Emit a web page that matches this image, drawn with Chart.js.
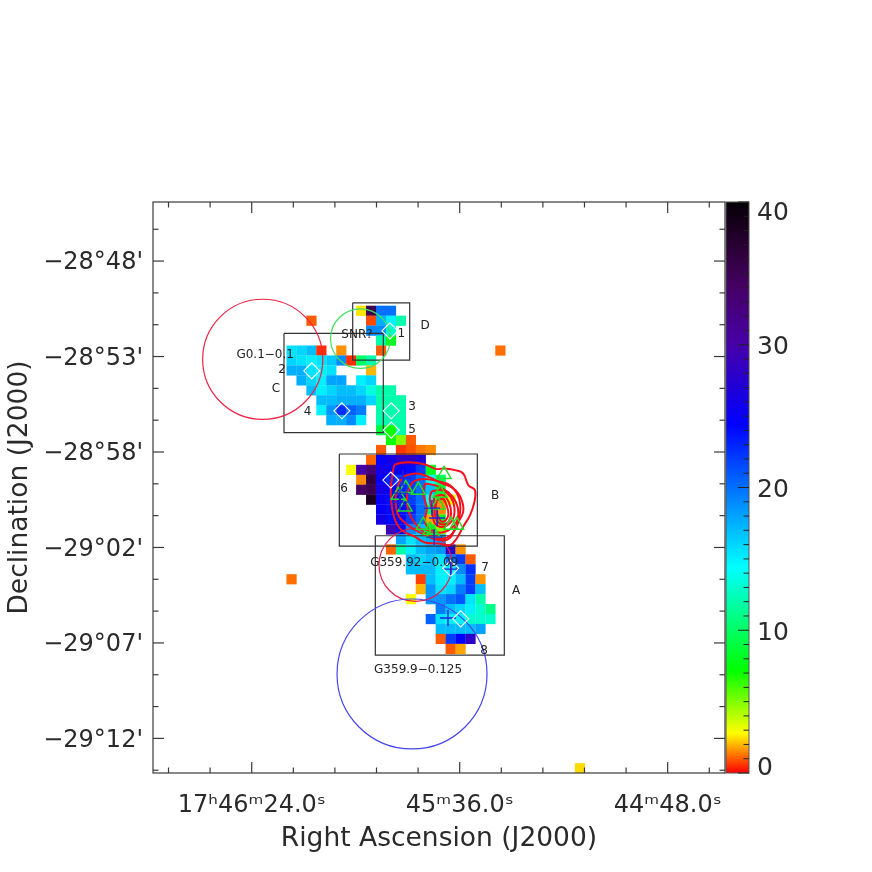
<!DOCTYPE html>
<html lang="en">
<head>
  <meta charset="UTF-8">
  <title>Galactic centre map</title>
  <script src="https://cdn.jsdelivr.net/npm/chart.js"></script>
  <style>
    * { margin: 0; padding: 0; box-sizing: border-box; }
    body { background: #fff; width: 872px; height: 872px; position: relative; overflow: hidden; }
    #map-box { position: absolute; left: 0; top: 0; width: 872px; height: 872px; }
    #bar-box { position: absolute; left: 700px; top: 0; width: 172px; height: 872px; }
  </style>
</head>
<body>
  <div id="map-box"><canvas id="mapChart" width="872" height="872"></canvas></div>
  <div id="bar-box"><canvas id="barChart" width="172" height="872"></canvas></div>

  <script>
    // RA is seconds after 17h, Dec is arcmin after -28 deg
    const raMin = 2674.77, raMax = 2806.78;
    const decMin = -73.74, decMax = -45.03;

    const raTicks = [2784, 2736, 2688];
    const raTickLabels = ["17ʰ46ᵐ24.0ˢ", "45ᵐ36.0ˢ", "44ᵐ48.0ˢ"];
    const raMinorTicks = [2803.2, 2793.6, 2774.4, 2764.8, 2755.2, 2745.6, 2726.4, 2716.8, 2707.2, 2697.6, 2678.4];
    const decTicks = [-48, -52.8, -57.6, -62.4, -67.2, -72];
    const decTickLabels = ["−28°48'", "−28°53'", "−28°58'", "−29°02'", "−29°07'", "−29°12'"];
    const decMinorTicks = [-46.4, -49.6, -51.2, -54.4, -56, -59.2, -60.8, -64, -65.6, -68.8, -70.4, -73.6];

    // flux map: 30 arcsec cells
    const cellRa0 = 2774.8, cellRaStep = 2.295;
    const cellDec0 = -50.5, cellDecStep = 0.5;
    const rowIndex = [0, 1, 2, 3, 4, 4, 5, 6, 7, 8, 9, 10, 11, 12, 13, 14, 15, 16, 17, 18, 19, 20, 21, 22, 23, 24, 25, 26, 27, 27, 28, 29, 30, 31, 32, 33, 34, 46];
    const rowFirstCol = [7, 2, 8, 9, 0, 21, 0, 0, 1, 2, 3, 3, 4, 9, 10, 9, 8, 6, 7, 7, 8, 9, 9, 10, 11, 10, 12, 12, 0, 13, 13, 12, 15, 14, 15, 15, 16, 29];
    const rowFlux = [
      [2.5, 35, 20, 20],
      [1.0, null, null, null, null, null, 0.8, 17.5, 15, 12],
      [19, 19, 13],
      [12, 8],
      [15.5, 16, 17, 0.5, null, 1.6, null, null, null, 1.0],
      [1.2],
      [16, 15.5, 15, 15.5, 16.5, 19, 0.5, 10, 12],
      [17.5, 17.5, 15.5, 15, 15.5, null, null, null, 2],
      [17.5, 16, 15, 18, 18, null, 15, 16],
      [17, 15, 16, 17, 17, 16, 13.5, 12, 12],
      [17, 17, 17.5, 17.5, 17.5, 16, 12, 12, 12],
      [15, 18.5, 22.5, 20.5, 19.5, null, 12, 12, 12],
      [17.5, 17.5, 19, 15, null, 12, 12, 12],
      [9, 7, 12],
      [7, 5, 1],
      [1.0, null, 0.6, 0.9, 1.3, 1.5],
      [1.1, 25, 26, 28, 28, 27],
      [2.9, 30, 33, 26, 25, 25, 24, 22, 8],
      [1.5, 36, 25, 23, 22, 22, 20, 14, 10],
      [34, 35, 26, 25, 23, 22, 20, 17, 9],
      [38, 25, 24, 24, 22, 20, 14, 1.5, 3],
      [25, 24, 24, 23, 20, 10, 1.5],
      [26, 24, 24, 22, 20, 1.8, 8],
      [29, 24, 19, 17, 8, 5],
      [18, 15.5, 17, 17.5, 18.5],
      [1.1, 12, 15, 17, 18, 18.5, 28, 1.6],
      [17, 16, 17, 15.5, 20, 22, 1.0],
      [17, 17, 17, 15, 15, 19, 22.5],
      [1.2],
      [0.7, 17, 15, 15, 17, 22, 1.6],
      [2, 18.5, 15.5, 16, 19.5, 22, 17],
      [2.9, null, 18.5, 18.5, 20, 21, 15.5, 12],
      [19.5, 17, 16, 15, 13, 11],
      [20.5, 15.5, 15, 15, 13, 13, 13],
      [17, 17, 17, 17, 18],
      [1.0, 22, 24.4, 28],
      [1.0, 1.8],
      [2.4]
    ];

    // colour table
    const colourValues = [0, 1.4, 2.8, 7.2, 14.4, 24.4, 30, 34, 37, 40];
    const colourRgb = [[255, 0, 0], [255, 128, 0], [255, 255, 0], [0, 255, 0], [0, 255, 255], [0, 0, 255], [70, 0, 170], [70, 0, 100], [40, 0, 50], [5, 0, 5]];
    const barTicks = [0, 10, 20, 30, 40];
    const barTickLabels = ["0", "10", "20", "30", "40"];
    const barMinorTicks = [1, 2, 3, 4, 5, 6, 7, 8, 9, 11, 12, 13, 14, 15, 16, 17, 18, 19, 21, 22, 23, 24, 25, 26, 27, 28, 29, 31, 32, 33, 34, 35, 36, 37, 38, 39];

    // source regions A, B, C, D
    const boxEastRa = [2755.47, 2763.78, 2776.55, 2760.69];
    const boxWestRa = [2725.70, 2731.93, 2753.63, 2747.54];
    const boxNorthDec = [-61.81, -57.70, -51.64, -50.10];
    const boxSouthDec = [-67.81, -62.33, -56.63, -52.98];

    // SNR circles, radius in arcmin
    const circleRa = [2781.46, 2758.91, 2746.2, 2747.0];
    const circleDec = [-52.94, -51.90, -63.28, -68.76];
    const circleRadius = [3.02, 1.5, 1.835, 3.77];
    const circleColour = ["#ee2244", "#40e060", "#e8204a", "#4444ee"];

    const diamondRa = [2752.1, 2770.15, 2751.8, 2763.2, 2751.8, 2751.9, 2738.07, 2735.76];
    const diamondDec = [-51.51, -53.52, -55.53, -55.53, -56.50, -59.01, -63.45, -65.99];
    const plusRa = [2738.07, 2738.7, 2741.9, 2742.4, 2741.2, 2749.77, 2749.77, 2749.1];
    const plusDec = [-63.49, -65.95, -61.88, -60.42, -60.92, -59.67, -60.12, -58.91];
    const triangleRa = [2739.6, 2748.45, 2745.55, 2750.2, 2748.6, 2740.5, 2741.0, 2744.4, 2742.85, 2742.1, 2738.0, 2736.7];
    const triangleDec = [-58.73, -59.43, -59.52, -59.77, -60.36, -59.68, -60.27, -61.28, -61.53, -61.69, -61.28, -61.28];

    // radio contours
    const contourRa = [
      [2751.3, 2750.9, 2747.9, 2744.0, 2741.3, 2739.8, 2737.1, 2735.2, 2734.0, 2732.5, 2732.6, 2733.6, 2735.2, 2736.7, 2738.2, 2740.9, 2744.0, 2746.3, 2749.4, 2750.9, 2751.7, 2751.9],
      [2750.2, 2749.0, 2745.9, 2743.2, 2740.1, 2737.5, 2735.7, 2735.2, 2736.8, 2738.4, 2740.9, 2744.8, 2747.9, 2750.2, 2750.8],
      [2748.2, 2746.7, 2744.0, 2740.5, 2738.2, 2736.3, 2735.9, 2737.1, 2739.8, 2743.2, 2746.3, 2747.9],
      [2744.0, 2741.3, 2738.6, 2736.9, 2736.3, 2737.2, 2739.8, 2742.5, 2744.0, 2743.6, 2744.4],
      [2742.5, 2740.1, 2738.0, 2737.2, 2737.7, 2739.8, 2741.7, 2742.3, 2742.9],
      [2741.9, 2739.8, 2738.4, 2738.0, 2738.6, 2740.1, 2741.3, 2741.9],
      [2741.3, 2739.8, 2738.9, 2738.6, 2739.2, 2740.3, 2741.1, 2741.5]
    ];
    const contourDec = [
      [-58.43, -58.23, -58.12, -58.23, -58.46, -58.43, -58.51, -58.68, -59.27, -59.52, -60.11, -60.77, -61.36, -61.95, -62.28, -62.20, -62.15, -61.87, -61.53, -61.03, -60.27, -59.43],
      [-59.27, -58.85, -58.68, -58.85, -59.18, -59.43, -59.93, -60.61, -61.28, -61.95, -62.03, -61.69, -61.28, -60.77, -59.93],
      [-59.68, -59.10, -58.96, -59.10, -59.27, -59.85, -60.61, -61.53, -61.95, -61.78, -61.19, -60.52],
      [-59.18, -59.30, -59.63, -60.11, -60.69, -61.28, -61.64, -61.53, -61.11, -60.44, -59.68],
      [-59.57, -59.52, -59.90, -60.44, -61.03, -61.36, -61.19, -60.61, -59.93],
      [-59.85, -59.77, -60.19, -60.69, -61.11, -61.24, -61.03, -60.44],
      [-60.02, -59.97, -60.36, -60.74, -61.03, -61.08, -60.77, -60.36]
    ];

    const noteTexts = ["1", "2", "3", "4", "5", "6", "7", "8", "A", "B", "C", "D", "SNR?", "G0.1−0.1", "G359.92−0.09", "G359.9−0.125"];
    const noteRa = [2749.5, 2777.0, 2747.0, 2771.1, 2747.0, 2762.7, 2730.15, 2730.4, 2723.0, 2727.84, 2778.4, 2744.0, 2759.7, 2780.9, 2746.5, 2745.6];
    const noteDec = [-51.67, -53.48, -55.34, -55.60, -56.50, -59.47, -63.44, -67.61, -64.60, -59.82, -54.44, -51.27, -51.72, -52.73, -63.19, -68.57];

    const axisColour = "#3a3a3a";
    const textColour = "#2a2a2a";
    const bigFont = "'DejaVu Sans', sans-serif";

    function fluxColour(v) {
      for (let i = 1; i < colourValues.length; i++) {
        if (v <= colourValues[i]) {
          const f = (v - colourValues[i - 1]) / (colourValues[i] - colourValues[i - 1]);
          const a = colourRgb[i - 1], b = colourRgb[i];
          return `rgb(${a.map((c, k) => Math.round(c + (b[k] - c) * f)).join(",")})`;
        }
      }
      return "rgb(5,0,5)";
    }

    const cellPoints = [];
    rowFlux.forEach((vals, i) => {
      vals.forEach((v, j) => {
        if (v === null) return;
        cellPoints.push({
          x: cellRa0 - (rowFirstCol[i] + j) * cellRaStep,
          y: cellDec0 - rowIndex[i] * cellDecStep,
          v: v
        });
      });
    });

    function zip(xs, ys) {
      return xs.map((x, i) => ({ x: x, y: ys[i] }));
    }

    function strokeDataset(points, colour, width) {
      return { data: points, showLine: true, pointRadius: 0, borderColor: colour, borderWidth: width, fill: false };
    }

    const datasets = [];
    datasets.push({
      data: cellPoints,
      pointStyle: "rect",
      pointRadius: 7.2,
      pointBorderWidth: 0,
      pointBackgroundColor: cellPoints.map(p => fluxColour(p.v)),
      order: 10
    });
    boxEastRa.forEach((east, i) => {
      const d = strokeDataset([
        { x: east, y: boxNorthDec[i] }, { x: boxWestRa[i], y: boxNorthDec[i] },
        { x: boxWestRa[i], y: boxSouthDec[i] }, { x: east, y: boxSouthDec[i] },
        { x: east, y: boxNorthDec[i] }
      ], "#333", 1.2);
      d.order = 6;
      datasets.push(d);
    });
    datasets.push({
      data: zip(circleRa, circleDec),
      pointStyle: "circle",
      pointRadius: ctx => circleRadius[ctx.dataIndex] * (ctx.chart.scales.y.getPixelForValue(0) - ctx.chart.scales.y.getPixelForValue(1)),
      pointBorderColor: circleColour,
      pointBackgroundColor: "rgba(0,0,0,0)",
      pointBorderWidth: 1.2,
      order: 5
    });
    contourRa.forEach((ras, i) => {
      const pts = zip(ras, contourDec[i]);
      pts.push(pts[0]);
      const d = strokeDataset(pts, "#f5101c", 2);
      d.tension = 0.4;
      d.order = 4;
      datasets.push(d);
    });
    datasets.push({
      data: zip(triangleRa, triangleDec),
      pointStyle: "triangle",
      pointRadius: 8,
      pointBorderColor: "#22e022",
      pointBackgroundColor: "rgba(0,0,0,0)",
      pointBorderWidth: 1.5,
      order: 3
    });
    datasets.push({
      data: zip(plusRa, plusDec),
      pointStyle: "cross",
      pointRadius: 8,
      pointBorderColor: "#2222dd",
      pointBorderWidth: 1.4,
      order: 2
    });
    datasets.push({
      data: zip(diamondRa, diamondDec),
      pointStyle: "rectRot",
      pointRadius: 8,
      pointBorderColor: "#fff",
      pointBackgroundColor: "rgba(0,0,0,0)",
      pointBorderWidth: 1.1,
      order: 1
    });

    function tickLine(ctx, x1, y1, x2, y2) {
      ctx.beginPath();
      ctx.moveTo(x1, y1);
      ctx.lineTo(x2, y2);
      ctx.stroke();
    }

    // IDL style inward ticks on all four sides plus the frame and the notes
    const mapFrame = {
      id: "mapFrame",
      afterDatasetsDraw(chart) {
        const { ctx, chartArea: a, scales } = chart;
        ctx.save();
        ctx.strokeStyle = axisColour;
        ctx.lineWidth = 1.2;
        ctx.strokeRect(a.left, a.top, a.right - a.left, a.bottom - a.top);
        const drawX = (vals, len) => vals.forEach(v => {
          const px = scales.x.getPixelForValue(v);
          tickLine(ctx, px, a.bottom, px, a.bottom - len);
          tickLine(ctx, px, a.top, px, a.top + len);
        });
        const drawY = (vals, len) => vals.forEach(v => {
          const py = scales.y.getPixelForValue(v);
          tickLine(ctx, a.left, py, a.left + len, py);
          tickLine(ctx, a.right, py, a.right - len, py);
        });
        drawX(raTicks, 11);
        drawX(raMinorTicks, 5.5);
        drawY(decTicks, 11);
        drawY(decMinorTicks, 5.5);

        ctx.fillStyle = "#222";
        ctx.font = "12px 'DejaVu Sans', sans-serif";
        ctx.textAlign = "center";
        ctx.textBaseline = "middle";
        noteTexts.forEach((t, i) => {
          ctx.fillText(t, scales.x.getPixelForValue(noteRa[i]), scales.y.getPixelForValue(noteDec[i]));
        });
        ctx.restore();
      }
    };

    new Chart(document.getElementById("mapChart"), {
      type: "scatter",
      data: { datasets: datasets },
      options: {
        responsive: false,
        animation: false,
        layout: { padding: { left: 0, top: 202, right: 147, bottom: 17 } },
        plugins: { legend: { display: false }, tooltip: { enabled: false } },
        scales: {
          x: {
            type: "linear",
            reverse: true,
            min: raMin,
            max: raMax,
            grid: { display: false, drawTicks: false },
            border: { display: false },
            afterBuildTicks: s => { s.ticks = raTicks.map(v => ({ value: v })); },
            afterFit: s => { s.height = 82; },
            ticks: {
              color: textColour,
              padding: 18,
              autoSkip: false,
              maxRotation: 0,
              minRotation: 0,
              font: { family: bigFont, size: 24 },
              callback: (v, i) => raTickLabels[i]
            },
            title: { display: true, text: "Right Ascension (J2000)", color: textColour, padding: 0, font: { family: bigFont, size: 26.5 } }
          },
          y: {
            type: "linear",
            min: decMin,
            max: decMax,
            grid: { display: false, drawTicks: false },
            border: { display: false },
            afterBuildTicks: s => { s.ticks = decTicks.map(v => ({ value: v })); },
            afterFit: s => { s.width = 153; },
            ticks: {
              color: textColour,
              padding: 10,
              labelOffset: 2,
              autoSkip: false,
              font: { family: bigFont, size: 24 },
              callback: (v, i) => decTickLabels[i]
            },
            title: { display: true, text: "Declination (J2000)", color: textColour, padding: { top: 4, bottom: 0 }, font: { family: bigFont, size: 26.5 } }
          }
        }
      },
      plugins: [mapFrame]
    });

    // colour bar
    const barFrame = {
      id: "barFrame",
      afterDatasetsDraw(chart) {
        const { ctx, chartArea: a, scales } = chart;
        ctx.save();
        ctx.strokeStyle = "#555";
        ctx.lineWidth = 1;
        ctx.strokeRect(a.left, a.top, a.right - a.left, a.bottom - a.top);
        ctx.strokeStyle = "#222";
        barTicks.forEach(v => {
          const py = scales.y.getPixelForValue(v);
          tickLine(ctx, a.right - 11, py, a.right, py);
        });
        barMinorTicks.forEach(v => {
          const py = scales.y.getPixelForValue(v);
          tickLine(ctx, a.right - 5.5, py, a.right, py);
        });
        ctx.fillStyle = textColour;
        ctx.font = "25px " + bigFont;
        ctx.textAlign = "left";
        ctx.textBaseline = "middle";
        barTickLabels.forEach((t, i) => {
          let py = scales.y.getPixelForValue(barTicks[i]);
          if (barTicks[i] === 0) py -= 8;
          if (barTicks[i] === 40) py += 8;
          ctx.fillText(t, a.right + 8, py + 3);
        });
        ctx.restore();
      }
    };

    function barGradient(ctx) {
      const { chart } = ctx;
      if (!chart.chartArea) return "#000";
      const y = chart.scales.y;
      const g = chart.ctx.createLinearGradient(0, y.getPixelForValue(0), 0, y.getPixelForValue(40));
      colourValues.forEach((v, i) => g.addColorStop(v / 40, `rgb(${colourRgb[i].join(",")})`));
      return g;
    }

    new Chart(document.getElementById("barChart"), {
      type: "bar",
      data: {
        labels: ["flux"],
        datasets: [{ data: [[barTicks[0], barTicks[4]]], backgroundColor: barGradient, barPercentage: 1, categoryPercentage: 1, borderWidth: 0, inflateAmount: 0 }]
      },
      options: {
        responsive: false,
        animation: false,
        layout: { padding: { left: 26, top: 202, right: 123, bottom: 99 } },
        plugins: { legend: { display: false }, tooltip: { enabled: false } },
        scales: {
          x: { display: false },
          y: { display: false, min: 0, max: 40 }
        }
      },
      plugins: [barFrame]
    });
  </script>
</body>
</html>
